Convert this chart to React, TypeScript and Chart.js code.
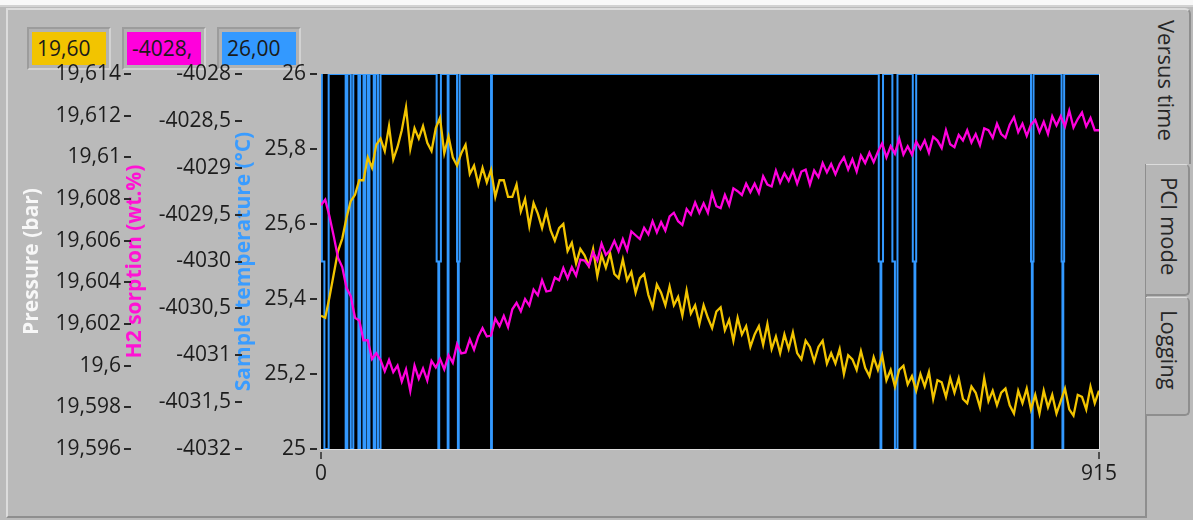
import React, { useEffect, useRef } from "react";
import { Chart, registerables } from "chart.js";

Chart.register(...registerables);

const FONT = '"Open Sans", "Noto Sans", sans-serif';
const YELLOW = "#f2c400";
const MAGENTA = "#ff00dc";
const BLUE = "#3399ff";

// pressure and sorption are logged every 5 samples
const SAMPLE_STEP = 5;
const TIME_MAX = 915;

const pressureBar = [
  19.6024, 19.6023, 19.6033, 19.6044, 19.6055, 19.6061, 19.6071, 19.6079, 19.6082, 19.6089,
  19.6089, 19.61, 19.6095, 19.6106, 19.6109, 19.6103, 19.6115, 19.6099, 19.6105, 19.6113,
  19.6124, 19.6104, 19.6114, 19.6109, 19.6115, 19.6107, 19.6103, 19.6114, 19.6119, 19.6102,
  19.611, 19.61, 19.6096, 19.6102, 19.6106, 19.6092, 19.6096, 19.6087, 19.6095, 19.6088,
  19.6094, 19.6081, 19.6089, 19.6089, 19.6081, 19.6081, 19.6087, 19.6074, 19.608, 19.6067,
  19.6078, 19.6073, 19.6066, 19.6074, 19.6065, 19.606, 19.6066, 19.6068, 19.6055, 19.6059,
  19.6049, 19.6056, 19.6053, 19.6048, 19.6056, 19.6043, 19.6053, 19.6047, 19.6054, 19.6044,
  19.6042, 19.6051, 19.6041, 19.6045, 19.6035, 19.6042, 19.6044, 19.6034, 19.6028, 19.6039,
  19.6035, 19.6029, 19.6038, 19.6029, 19.6033, 19.6024, 19.6036, 19.6025, 19.6029, 19.602,
  19.6029, 19.6023, 19.6018, 19.6026, 19.6028, 19.6017, 19.6022, 19.6012, 19.6023, 19.6015,
  19.6019, 19.6009, 19.6015, 19.6019, 19.601, 19.602, 19.6008, 19.6014, 19.6006, 19.6015,
  19.6008, 19.6016, 19.6006, 19.6003, 19.6012, 19.6009, 19.6002, 19.6009, 19.6012, 19.6001,
  19.6006, 19.6001, 19.6008, 19.5996, 19.6005, 19.6003, 19.5998, 19.6007, 19.5999, 19.5995,
  19.6004, 19.5998, 19.6005, 19.5993, 19.5998, 19.599, 19.5998, 19.6, 19.5991, 19.5995,
  19.5988, 19.5996, 19.599, 19.5997, 19.5984, 19.5993, 19.5992, 19.5985, 19.5994, 19.5987,
  19.5994, 19.5984, 19.5982, 19.599, 19.5987, 19.598, 19.5994, 19.5983, 19.5988, 19.5981,
  19.5987, 19.5989, 19.5981, 19.5977, 19.5988, 19.5982, 19.5989, 19.5979, 19.5986, 19.5977,
  19.5988, 19.598, 19.5986, 19.5977, 19.5983, 19.5989, 19.5979, 19.5976, 19.5986, 19.5985,
  19.5979, 19.599, 19.5982, 19.5988,
];

const sorptionWtPct = [
  -4029.4, -4029.34, -4029.52, -4029.73, -4029.96, -4030.06, -4030.28, -4030.37, -4030.6, -4030.63,
  -4030.84, -4030.84, -4031.04, -4030.98, -4031.05, -4031.17, -4031.05, -4031.18, -4031.11, -4031.28,
  -4031.15, -4031.38, -4031.11, -4031.25, -4031.14, -4031.27, -4031.06, -4031.13, -4031.04, -4031.15,
  -4031.0, -4031.08, -4030.88, -4030.98, -4030.97, -4030.83, -4030.94, -4030.8, -4030.71, -4030.8,
  -4030.79, -4030.61, -4030.69, -4030.58, -4030.7, -4030.51, -4030.44, -4030.53, -4030.4, -4030.47,
  -4030.3, -4030.36, -4030.2, -4030.32, -4030.31, -4030.17, -4030.2, -4030.07, -4030.18, -4030.06,
  -4030.15, -4029.98, -4029.99, -4030.05, -4029.9, -4029.99, -4029.81, -4029.93, -4029.88, -4029.78,
  -4029.89, -4029.76, -4029.88, -4029.68, -4029.72, -4029.76, -4029.64, -4029.71, -4029.57, -4029.69,
  -4029.58, -4029.67, -4029.52, -4029.48, -4029.57, -4029.61, -4029.44, -4029.5, -4029.37, -4029.48,
  -4029.38, -4029.48, -4029.27, -4029.41, -4029.43, -4029.29, -4029.4, -4029.22, -4029.25, -4029.29,
  -4029.17, -4029.26, -4029.17, -4029.27, -4029.09, -4029.18, -4029.2, -4029.03, -4029.16, -4029.06,
  -4029.14, -4029.03, -4029.17, -4029.04, -4029.02, -4029.18, -4029.03, -4029.1, -4028.95, -4029.05,
  -4028.96, -4029.07, -4028.96, -4028.89, -4029.02, -4028.91, -4029.04, -4028.87, -4028.95, -4028.84,
  -4028.94, -4028.83, -4028.74, -4028.89, -4028.77, -4028.85, -4028.69, -4028.86, -4028.77, -4028.86,
  -4028.72, -4028.8, -4028.71, -4028.84, -4028.67, -4028.71, -4028.79, -4028.6, -4028.75, -4028.78,
  -4028.65, -4028.71, -4028.6, -4028.73, -4028.64, -4028.76, -4028.58, -4028.6, -4028.68, -4028.53,
  -4028.64, -4028.68, -4028.54, -4028.46, -4028.62, -4028.53, -4028.66, -4028.54, -4028.49, -4028.62,
  -4028.51, -4028.64, -4028.45, -4028.55, -4028.45, -4028.56, -4028.39, -4028.57, -4028.48, -4028.41,
  -4028.56, -4028.47, -4028.6, -4028.6,
];

// sample temperature: sample indices where the reading changes, and the new reading
const temperatureChangeAt = [
  1, 4, 9, 29, 31, 35, 38, 44, 46, 50, 52, 55, 57, 62, 64, 67, 70,
  136, 138, 139, 141, 149, 150, 160, 161, 162, 163, 200, 201,
  656, 658, 659, 661, 672, 675, 678, 696, 698, 699, 700,
  835, 836, 837, 838, 871, 872, 873, 874,
];
const temperatureChangeTo = [
  25.5, 25, 26, 25, 26, 25, 26, 25, 26, 25, 26, 25, 26, 25, 26, 25, 26,
  25.5, 25, 25.5, 26, 25, 26, 25.5, 25, 25.5, 26, 25, 26,
  25.5, 25, 25.5, 26, 25.5, 25, 26, 25.5, 25, 25.5, 26,
  25.5, 25, 25.5, 26, 25.5, 25, 25.5, 26,
];
const temperatureStart = 26;

const pressureTicks = [19.596, 19.598, 19.6, 19.602, 19.604, 19.606, 19.608, 19.61, 19.612, 19.614];
const sorptionTicks = [-4032, -4031.5, -4031, -4030.5, -4030, -4029.5, -4029, -4028.5, -4028];
const temperatureTicks = [25, 25.2, 25.4, 25.6, 25.8, 26];
const timeTicks = [0, 915];

const readoutTexts = ["19,60", "-4028,", "26,00"];
const tabNames = ["Versus time", "PCI mode", "Logging"];

const commaDecimal = (v: number) => String(v).replace(".", ",");

const plotFrame = {
  id: "plotFrame",
  beforeDraw(chart: any) {
    const { ctx, chartArea: a } = chart;
    ctx.save();
    ctx.fillStyle = "#000";
    ctx.fillRect(a.left, a.top, a.right - a.left, a.bottom - a.top);
    ctx.restore();
  },
  afterDraw(chart: any) {
    const { ctx, chartArea: a } = chart;
    ctx.save();
    ctx.strokeStyle = "#2a2a2a";
    ctx.lineWidth = 2;
    const marks: [string, number][] = [["yP", 5], ["yS", 4], ["yT", 4]];
    for (const [id, off] of marks) {
      const s = chart.scales[id];
      for (const t of s.ticks) {
        const y = Math.round(s.getPixelForValue(t.value));
        ctx.beginPath();
        ctx.moveTo(s.right - off - 7, y);
        ctx.lineTo(s.right - off, y);
        ctx.stroke();
      }
    }
    const xs = chart.scales.x;
    ctx.lineWidth = 1.5;
    for (const t of xs.ticks) {
      const x = Math.round(xs.getPixelForValue(t.value));
      ctx.beginPath();
      ctx.moveTo(x, a.bottom + 3);
      ctx.lineTo(x, a.bottom + 10);
      ctx.stroke();
    }
    ctx.strokeStyle = "#dedede";
    ctx.lineWidth = 1;
    ctx.beginPath();
    ctx.moveTo(a.right + 0.5, a.top);
    ctx.lineTo(a.right + 0.5, a.bottom + 0.5);
    ctx.lineTo(a.left - 1, a.bottom + 0.5);
    ctx.stroke();
    ctx.restore();
  },
};

function fixedWidth(w: number) {
  return (axis: any) => {
    axis.width = w;
  };
}

function tickValues(values: number[]) {
  return (axis: any) => {
    axis.ticks = values.map((value) => ({ value }));
  };
}

function ChartCanvas() {
  const ref = useRef<HTMLCanvasElement | null>(null);

  useEffect(() => {
    if (!ref.current) return;

    const pressurePoints = pressureBar.map((y, n) => ({ x: n * SAMPLE_STEP, y }));
    const sorptionPoints = sorptionWtPct.map((y, n) => ({ x: n * SAMPLE_STEP, y }));
    const temperaturePoints = [{ x: 0, y: temperatureStart }];
    temperatureChangeAt.forEach((x, k) => temperaturePoints.push({ x, y: temperatureChangeTo[k] }));
    temperaturePoints.push({ x: TIME_MAX, y: temperaturePoints[temperaturePoints.length - 1].y });

    const tickFont = { family: FONT, size: 21 };
    const titleFont = { family: FONT, size: 21, weight: "bold" as const };

    const yAxis = (
      ticks: number[],
      min: number,
      max: number,
      width: number,
      weight: number,
      title: string,
      color: string,
      titlePad: number
    ) => ({
      type: "linear" as const,
      position: "left" as const,
      weight,
      min,
      max,
      afterBuildTicks: tickValues(ticks),
      afterFit: fixedWidth(width),
      grid: { display: false, drawTicks: false },
      border: { display: false },
      ticks: {
        autoSkip: false,
        font: tickFont,
        color: "#1c1c1c",
        padding: 15,
        callback: (v: any) => commaDecimal(Number(v)),
      },
      title: {
        display: true,
        text: title,
        color,
        font: titleFont,
        padding: { top: titlePad, bottom: 0 },
      },
    });

    const chart = new Chart(ref.current, {
      type: "line",
      data: {
        datasets: [
          {
            label: "H2 sorption (wt.%)",
            data: sorptionPoints,
            yAxisID: "yS",
            borderColor: MAGENTA,
            borderWidth: 2.3,
            borderJoinStyle: "miter",
            pointRadius: 0,
            order: 0,
          },
          {
            label: "Pressure (bar)",
            data: pressurePoints,
            yAxisID: "yP",
            borderColor: YELLOW,
            borderWidth: 2.3,
            borderJoinStyle: "miter",
            pointRadius: 0,
            order: 1,
          },
          {
            label: "Sample temperature (°C)",
            data: temperaturePoints,
            yAxisID: "yT",
            borderColor: BLUE,
            borderWidth: 2,
            pointRadius: 0,
            stepped: true,
            order: 2,
          },
        ],
      },
      options: {
        responsive: false,
        devicePixelRatio: 1,
        animation: false,
        layout: { padding: { left: 10, top: 74, right: 94, bottom: 26 } },
        plugins: { legend: { display: false }, tooltip: { enabled: false } },
        scales: {
          x: {
            type: "linear",
            position: "bottom",
            min: 0,
            max: TIME_MAX,
            afterBuildTicks: tickValues(timeTicks),
            afterFit: (axis: any) => {
              axis.height = 45;
            },
            grid: { display: false, drawTicks: false },
            border: { display: false },
            ticks: {
              autoSkip: false,
              maxRotation: 0,
              font: tickFont,
              color: "#1c1c1c",
              padding: 12,
              callback: (v: any) => commaDecimal(Number(v)),
            },
          },
          yT: yAxis(temperatureTicks, 25, 26, 75, 0, "Sample temperature (°C)", "#3a9cff", -15),
          yS: yAxis(sorptionTicks, -4032, -4028, 110, 1, "H2 sorption (wt.%)", "#ff12d4", -14),
          yP: yAxis(pressureTicks, 19.596, 19.614, 126, 2, "Pressure (bar)", "#f7f7f7", 9),
        },
      },
      plugins: [plotFrame],
    });

    return () => chart.destroy();
  }, []);

  return (
    <canvas
      ref={ref}
      width={1193}
      height={520}
      style={{ position: "absolute", left: 0, top: 0, width: 1193, height: 520 }}
    />
  );
}

const readoutColors = [YELLOW, MAGENTA, BLUE];
const readoutLefts = [27, 122, 217];

export default function App() {
  return (
    <div
      style={{
        position: "absolute",
        left: 0,
        top: 0,
        width: 1193,
        height: 520,
        overflow: "hidden",
        background: "#bababa",
        fontFamily: FONT,
      }}
    >
      <div style={{ position: "absolute", left: 0, top: 0, width: 1193, height: 5, background: "#f8f8f8" }} />
      <div style={{ position: "absolute", left: 0, top: 5, width: 1193, height: 2, background: "#d2d2d2" }} />
      {/* tab page body */}
      <div
        style={{
          position: "absolute",
          left: 6,
          top: 8,
          width: 1141,
          height: 510,
          boxSizing: "border-box",
          borderLeft: "2px solid #dcdcdc",
          borderTop: "2px solid #dcdcdc",
          borderBottom: "2px solid #8e8e8e",
        }}
      />
      <div style={{ position: "absolute", left: 1145, top: 163, width: 2, height: 355, background: "#8e8e8e" }} />
      {/* tabs */}
      <div
        style={{
          position: "absolute",
          left: 1140,
          top: 8,
          width: 51,
          height: 156,
          boxSizing: "border-box",
          background: "#bababa",
          borderTop: "2px solid #dcdcdc",
          borderRight: "2px solid #8e8e8e",
          borderTopRightRadius: 6,
          writingMode: "vertical-rl",
          fontSize: 22,
          color: "#262626",
          paddingTop: 10,
          paddingRight: 7,
        }}
      >
        {tabNames[0]}
      </div>
      {[
        { top: 164, height: 132 },
        { top: 297, height: 119 },
      ].map((t, i) => (
        <div
          key={i}
          style={{
            position: "absolute",
            left: 1146,
            top: t.top,
            width: 44,
            height: t.height,
            boxSizing: "border-box",
            background: "#b6b6b6",
            borderTop: "1px solid #dcdcdc",
            borderRight: "2px solid #8e8e8e",
            borderBottom: "2px solid #8e8e8e",
            borderBottomRightRadius: 5,
            borderTopRightRadius: 5,
            writingMode: "vertical-rl",
            fontSize: 22,
            color: "#262626",
            paddingTop: 12,
            paddingRight: 3,
          }}
        >
          {tabNames[i + 1]}
        </div>
      ))}
      {/* digital readouts */}
      {readoutTexts.map((txt, i) => (
        <div
          key={txt}
          style={{
            position: "absolute",
            left: readoutLefts[i],
            top: 27,
            width: 84,
            height: 43,
            boxSizing: "border-box",
            background: "#b2b2b2",
            borderTop: "2px solid #9c9c9c",
            borderLeft: "2px solid #9c9c9c",
            borderRight: "2px solid #d2d2d2",
            borderBottom: "2px solid #d2d2d2",
          }}
        >
          <div
            style={{
              position: "absolute",
              left: 3,
              top: 3,
              width: 74,
              height: 33,
              background: readoutColors[i],
              color: "#1a1a1a",
              fontSize: 21,
              lineHeight: "33px",
              paddingLeft: 5,
              boxSizing: "border-box",
              overflow: "hidden",
              whiteSpace: "nowrap",
            }}
          >
            {txt}
          </div>
        </div>
      ))}
      <ChartCanvas />
    </div>
  );
}
